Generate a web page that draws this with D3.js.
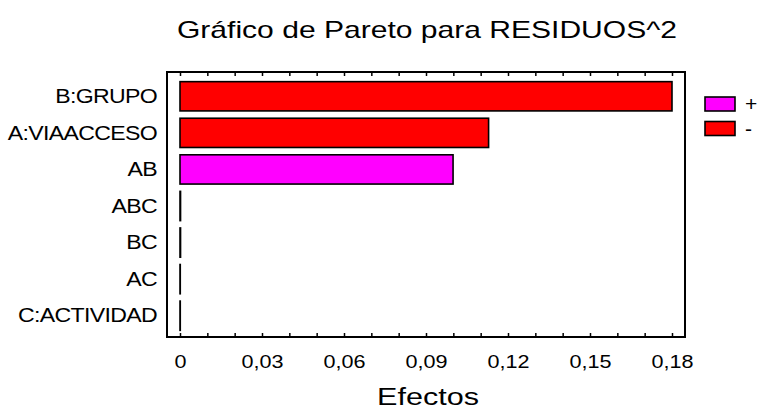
<!DOCTYPE html>
<html lang="es">
<head>
<meta charset="UTF-8"/>
<title>Gráfico de Pareto para RESIDUOS^2</title>
<script src="https://d3js.org/d3.v7.min.js"></script>
<style>
	body { margin: 0; background: #fff; }
	svg text { font-family: "Liberation Sans", Arial, sans-serif; fill: #000; }
</style>
</head>
<body>
<script>

	// data
	var categories = ["B:GRUPO", "A:VIAACCESO", "AB", "ABC", "BC", "AC", "C:ACTIVIDAD"];
	var effects = [0.18, 0.1129, 0.0999, 0.0002, 0.0002, 0.0001, 0.0001];
	var signs = ["-", "-", "+", "-", "-", "-", "-"];
	var tickValues = [0, 0.03, 0.06, 0.09, 0.12, 0.15, 0.18];
	var legendItems = ["+", "-"];

	var w = 759;
	var h = 410;

	// plot frame
	var frameL = 167, frameR = 685, frameT = 72, frameB = 337;

	var colors = { "+": "#FF00FF", "-": "#FF0000" };

	var xScale = d3.scaleLinear()
		.domain([0, 0.18])
		.range([180, 672]);

	var yScale = d3.scaleBand()
		.domain(categories)
		.range([78, 334])
		.paddingInner(0.2)
		.paddingOuter(0.1);

	var loc = d3.formatLocale({ decimal: ",", thousands: ".", grouping: [3], currency: ["", ""] });
	var fmt = function(d) { return d === 0 ? "0" : loc.format(".2f")(d); };

	var svg = d3.select("body")
		.append("svg")
		.attr("width", w)
		.attr("height", h);

	// title
	svg.append("text")
		.attr("x", 427)
		.attr("y", 38)
		.attr("text-anchor", "middle")
		.attr("textLength", 500)
		.attr("lengthAdjust", "spacingAndGlyphs")
		.style("font-size", "24px")
		.text("Gráfico de Pareto para RESIDUOS^2");

	// bars
	svg.selectAll("rect.bar")
		.data(categories)
		.enter()
		.append("rect")
		.attr("class", "bar")
		.attr("x", xScale(0))
		.attr("y", function(d) { return yScale(d); })
		.attr("width", function(d, i) { return xScale(effects[i]) - xScale(0); })
		.attr("height", yScale.bandwidth())
		.attr("fill", function(d, i) { return colors[signs[i]]; })
		.attr("stroke", "#000")
		.attr("stroke-width", 1.6);

	// frame
	svg.append("rect")
		.attr("x", frameL)
		.attr("y", frameT)
		.attr("width", frameR - frameL)
		.attr("height", frameB - frameT)
		.attr("fill", "none")
		.attr("stroke", "#000")
		.attr("stroke-width", 2);

	// ticks, inward on top and bottom
	var minor = d3.range(0, 0.1801, 0.01);
	var bottomAxis = d3.axisBottom(xScale).tickValues(minor).tickSizeInner(-4).tickSizeOuter(0).tickFormat("");
	var topAxis = d3.axisTop(xScale).tickValues(minor).tickSizeInner(-4).tickSizeOuter(0).tickFormat("");

	svg.append("g")
		.attr("transform", "translate(0," + frameB + ")")
		.call(bottomAxis)
		.call(function(g) { g.select(".domain").remove(); })
		.selectAll("line").attr("stroke-width", 1.5);

	svg.append("g")
		.attr("transform", "translate(0," + frameT + ")")
		.call(topAxis)
		.call(function(g) { g.select(".domain").remove(); })
		.selectAll("line").attr("stroke-width", 1.5);

	// tick labels
	svg.append("g")
		.attr("transform", "translate(0," + frameB + ")")
		.call(d3.axisBottom(xScale).tickValues(tickValues).tickSize(0).tickPadding(18).tickFormat(fmt))
		.call(function(g) { g.select(".domain").remove(); })
		.selectAll("text")
		.style("font-size", "18px")
		.attr("transform", "scale(1.2,1)")
		.attr("font-family", null);

	// category labels
	svg.append("g")
		.attr("transform", "translate(" + (frameL - 10) + ",0)")
		.call(d3.axisLeft(yScale).tickSize(0).tickPadding(0))
		.call(function(g) { g.select(".domain").remove(); })
		.selectAll("text")
		.style("font-size", "21px")
		.style("letter-spacing", "-0.6px")
		.attr("transform", "scale(1.1,1)")
		.attr("font-family", null);

	// x axis label
	svg.append("text")
		.attr("x", 428)
		.attr("y", 405)
		.attr("text-anchor", "middle")
		.attr("textLength", 102)
		.attr("lengthAdjust", "spacingAndGlyphs")
		.style("font-size", "23px")
		.text("Efectos");

	// legend
	var legend = svg.selectAll("g.legend")
		.data(legendItems)
		.enter()
		.append("g")
		.attr("class", "legend")
		.attr("transform", function(d, i) { return "translate(705," + (97 + i * 24.5) + ")"; });

	legend.append("rect")
		.attr("width", 30)
		.attr("height", 14)
		.attr("fill", function(d) { return colors[d]; })
		.attr("stroke", "#000")
		.attr("stroke-width", 1.6);

	legend.append("text")
		.attr("x", 40)
		.attr("y", 14)
		.style("font-size", "21px")
		.text(function(d) { return d; });

</script>
</body>
</html>
